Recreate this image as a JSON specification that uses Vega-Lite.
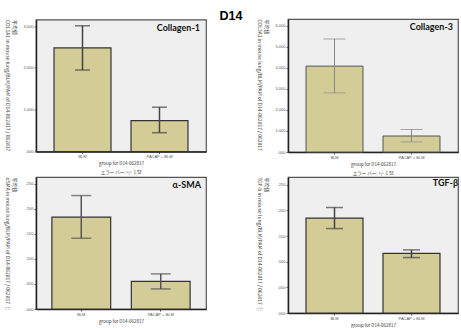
{
  "$schema": "https://vega.github.io/schema/vega-lite/v6.json",
  "background": "white",
  "padding": {"left": 3, "top": 9, "right": 0, "bottom": 0},
  "title": {"text": "D14", "font": "Liberation Sans", "fontSize": 12.5, "fontWeight": "bold", "color": "#000", "anchor": "middle", "baseline": "top", "offset": -4},
  "datasets": {
    "d": [
      {"panel": "Collagen-1", "group": "BLM", "mean": 2.48, "lo": 1.95, "hi": 3.01},
      {"panel": "Collagen-1", "group": "PACAP + BLM", "mean": 0.74, "lo": 0.45, "hi": 1.06},
      {"panel": "Collagen-3", "group": "BLM", "mean": 4.08, "lo": 2.81, "hi": 5.37},
      {"panel": "Collagen-3", "group": "PACAP + BLM", "mean": 0.76, "lo": 0.48, "hi": 1.07},
      {"panel": "α-SMA", "group": "BLM", "mean": 0.183, "lo": 0.141, "hi": 0.226},
      {"panel": "α-SMA", "group": "PACAP + BLM", "mean": 0.055, "lo": 0.04, "hi": 0.07},
      {"panel": "TGF-β", "group": "BLM", "mean": 0.185, "lo": 0.1645, "hi": 0.2055},
      {"panel": "TGF-β", "group": "PACAP + BLM", "mean": 0.116, "lo": 0.108, "hi": 0.123}
    ]
  },
  "columns": 2,
  "bounds": "flush",
  "center": true,
  "spacing": {"row": 25, "column": 82},
  "concat": [
    {
      "width": 170, "height": 132,
      "data": {"name": "d"},
      "title": {"text": "Collagen-1", "frame": "group", "anchor": "end", "baseline": "middle", "offset": -17.5, "dx": -6, "font": "Lato", "fontSize": 9, "fontWeight": "bold", "color": "#111"},
      "transform": [{"filter": "datum.panel === 'Collagen-1'"}],
      "encoding": {"x": {"field": "group", "type": "nominal", "sort": ["BLM", "PACAP + BLM"], "scale": {"paddingInner": 0.26, "paddingOuter": 0.234}, "axis": {"title": ["group for D14-062817", "エラー バー: +/- 1 SE"]}}},
      "layer": [
        {"mark": {"type": "bar", "fill": "#d3cc97", "stroke": "#333", "strokeWidth": 1.2},
         "encoding": {"y": {"field": "mean", "type": "quantitative", "scale": {"domain": [0, 3.16], "nice": false}, "axis": {"values": [0, 1, 2, 3], "title": ["平均値", "COL1A1 in mouse lung/BLM/PAM of D14-062817 / 062817"]}}}},
        {"mark": {"type": "errorbar", "color": "#444", "ticks": {"size": 15, "thickness": 1.5}, "rule": {"strokeWidth": 1.5}},
         "encoding": {"y": {"field": "lo", "type": "quantitative", "scale": {"domain": [0, 3.16], "nice": false}, "axis": {"values": [0, 1, 2, 3], "title": ["平均値", "COL1A1 in mouse lung/BLM/PAM of D14-062817 / 062817"]}}, "y2": {"field": "hi"}}}
      ]
    },
    {
      "width": 170, "height": 133,
      "data": {"name": "d"},
      "title": {"text": "Collagen-3", "frame": "group", "anchor": "end", "baseline": "middle", "offset": -16.5, "dx": -5, "font": "Lato", "fontSize": 9, "fontWeight": "bold", "color": "#111"},
      "transform": [{"filter": "datum.panel === 'Collagen-3'"}],
      "encoding": {"x": {"field": "group", "type": "nominal", "sort": ["BLM", "PACAP + BLM"], "scale": {"paddingInner": 0.26, "paddingOuter": 0.234}, "axis": {"title": ["group for D14-062817", "エラー バー: +/- 1 SE"]}}},
      "layer": [
        {"mark": {"type": "bar", "fill": "#d3cc97", "stroke": "#555", "strokeWidth": 1},
         "encoding": {"y": {"field": "mean", "type": "quantitative", "scale": {"domain": [0, 6.32], "nice": false}, "axis": {"values": [0, 1, 2, 3, 4, 5, 6], "title": ["平均値", "COL3A1 in mouse lung/BLM/PAM of D14-062817 / 062817"]}}}},
        {"mark": {"type": "errorbar", "color": "#888", "ticks": {"size": 22, "thickness": 1}, "rule": {"strokeWidth": 1}},
         "encoding": {"y": {"field": "lo", "type": "quantitative", "scale": {"domain": [0, 6.32], "nice": false}, "axis": {"values": [0, 1, 2, 3, 4, 5, 6], "title": ["平均値", "COL3A1 in mouse lung/BLM/PAM of D14-062817 / 062817"]}}, "y2": {"field": "hi"}}}
      ]
    },
    {
      "width": 170, "height": 132,
      "data": {"name": "d"},
      "title": {"text": "α-SMA", "frame": "group", "anchor": "end", "baseline": "middle", "offset": -17, "dx": -5, "font": "Lato", "fontSize": 9, "fontWeight": "bold", "color": "#111"},
      "transform": [{"filter": "datum.panel === 'α-SMA'"}],
      "encoding": {"x": {"field": "group", "type": "nominal", "sort": ["BLM", "PACAP + BLM"], "scale": {"paddingInner": 0.26, "paddingOuter": 0.2}, "axis": {"title": "group for D14-062817"}}},
      "layer": [
        {"mark": {"type": "bar", "fill": "#d3cc97", "stroke": "#333", "strokeWidth": 1.2},
         "encoding": {"y": {"field": "mean", "type": "quantitative", "scale": {"domain": [0, 0.263], "nice": false}, "axis": {"values": [0, 0.05, 0.1, 0.15, 0.2, 0.25], "title": ["平均値", "αSMA in mouse lung/BLM/PAM of D14-062817 / 062817 ①"]}}}},
        {"mark": {"type": "errorbar", "color": "#555", "ticks": {"size": 20, "thickness": 1.5}, "rule": {"strokeWidth": 1.5}},
         "encoding": {"y": {"field": "lo", "type": "quantitative", "scale": {"domain": [0, 0.263], "nice": false}, "axis": {"values": [0, 0.05, 0.1, 0.15, 0.2, 0.25], "title": ["平均値", "αSMA in mouse lung/BLM/PAM of D14-062817 / 062817 ①"]}}, "y2": {"field": "hi"}}}
      ]
    },
    {
      "width": 170, "height": 136,
      "data": {"name": "d"},
      "title": {"text": "TGF-β", "frame": "group", "anchor": "end", "baseline": "middle", "offset": -15, "dx": 0, "font": "Lato", "fontSize": 9, "fontWeight": "bold", "color": "#111"},
      "transform": [{"filter": "datum.panel === 'TGF-β'"}],
      "encoding": {"x": {"field": "group", "type": "nominal", "sort": ["BLM", "PACAP + BLM"], "scale": {"paddingInner": 0.26, "paddingOuter": 0.234}, "axis": {"title": "group for D14-062817"}}},
      "layer": [
        {"mark": {"type": "bar", "fill": "#d3cc97", "stroke": "#333", "strokeWidth": 1.2},
         "encoding": {"y": {"field": "mean", "type": "quantitative", "scale": {"domain": [0, 0.265], "nice": false}, "axis": {"values": [0, 0.05, 0.1, 0.15, 0.2, 0.25], "title": ["平均値", "TGF-b in mouse lung/BLM/PAM of D14-062817 / 062817 ①"]}}}},
        {"mark": {"type": "errorbar", "color": "#444", "ticks": {"size": 17, "thickness": 1.5}, "rule": {"strokeWidth": 1.5}},
         "encoding": {"y": {"field": "lo", "type": "quantitative", "scale": {"domain": [0, 0.265], "nice": false}, "axis": {"values": [0, 0.05, 0.1, 0.15, 0.2, 0.25], "title": ["平均値", "TGF-b in mouse lung/BLM/PAM of D14-062817 / 062817 ①"]}}, "y2": {"field": "hi"}}}
      ]
    }
  ],
  "config": {
    "font": "Liberation Sans",
    "view": {"fill": "#efefef", "stroke": "#555", "strokeWidth": 1.2},
    "axisY": {"grid": false, "labelFontSize": 4, "labelPadding": 1, "labelColor": "#555", "tickSize": 2, "tickColor": "#666", "minExtent": 10, "maxExtent": 10, "labelExpr": "replace(format(datum.value, '.3f'), '0.', '.')", "domainColor": "#222", "domainWidth": 1.5, "titleAngle": 90, "titleBaseline": "top", "titleAlign": "left", "titleAnchor": "end", "titleFont": "Noto Sans CJK JP", "titleFontSize": 5, "titleFontWeight": "normal", "titleLineHeight": 7, "titlePadding": 3, "titleColor": "#444"},
    "axisX": {"grid": false, "labelAngle": 0, "labelFontSize": 4, "labelPadding": 1, "labelColor": "#555", "tickSize": 2, "tickColor": "#666", "domainColor": "#222", "domainWidth": 1.5, "titleFont": "Noto Sans CJK JP", "titleFontSize": 4.5, "titleFontWeight": "normal", "titleLineHeight": 9, "titlePadding": 2, "titleColor": "#333"}
  }
}
